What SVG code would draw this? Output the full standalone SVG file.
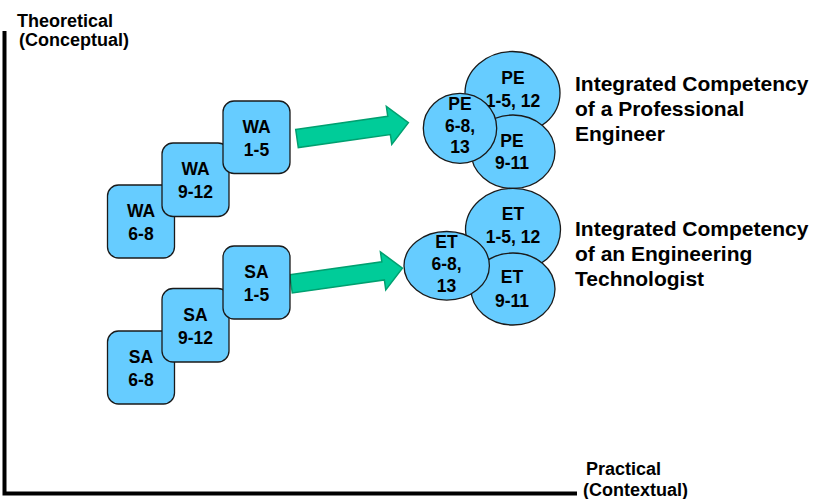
<svg xmlns="http://www.w3.org/2000/svg" width="818" height="499" viewBox="0 0 818 499">
<defs>
<style>
text{font-family:"Liberation Sans",Arial,sans-serif;font-weight:bold;fill:#000}
.box{fill:#66ccff;stroke:#1a1a1a;stroke-width:1.3}
.ell{fill:#66ccff;stroke:#1a1a1a;stroke-width:1.3}
.lbl{font-size:17.5px;text-anchor:middle}
.ax{font-size:18px}
.big{font-size:21px}
.arrow{fill:#00cc99;stroke:#00a070;stroke-width:1.5;stroke-linejoin:miter}
.axis{stroke:#000;stroke-width:4;fill:none}
</style>
<polygon id="arr" points="0,-9.2 93,-9.2 93,-19.2 112.5,0 93,19.2 93,9.2 0,9.2"/>
</defs>
<rect width="818" height="499" fill="#fff"/>
<g id="axes">
<path class="axis" d="M4.5,31 V493.5 H577"/>
<text class="ax" x="17" y="27">Theoretical</text>
<text class="ax" x="19" y="46"> (Conceptual)</text>
<text class="ax" x="586" y="475">Practical</text>
<text class="ax" x="583" y="496">(Contextual)</text>
</g>
<g id="connectors">
<use href="#arr" class="arrow" transform="translate(297,138.5) rotate(-8.1)"/>
<use href="#arr" class="arrow" transform="translate(291,283.8) rotate(-8.0)"/>
</g>
<g id="wa68"><rect class="box" x="107.5" y="185" width="67" height="73" rx="11"/><text class="lbl" x="141" y="217">WA</text><text class="lbl" x="141" y="240">6-8</text></g>
<g id="wa912"><rect class="box" x="162" y="143" width="67" height="73.5" rx="11"/><text class="lbl" x="195.5" y="175">WA</text><text class="lbl" x="195.5" y="198">9-12</text></g>
<g id="wa15"><rect class="box" x="223" y="101" width="67" height="72.5" rx="11"/><text class="lbl" x="256.5" y="133">WA</text><text class="lbl" x="256.5" y="156">1-5</text></g>
<g id="sa68"><rect class="box" x="107.5" y="331" width="67" height="73" rx="11"/><text class="lbl" x="141" y="363">SA</text><text class="lbl" x="141" y="386">6-8</text></g>
<g id="sa912"><rect class="box" x="162" y="288.5" width="67" height="73.5" rx="11"/><text class="lbl" x="195.5" y="320.5">SA</text><text class="lbl" x="195.5" y="343.5">9-12</text></g>
<g id="sa15"><rect class="box" x="223" y="246" width="67" height="73" rx="11"/><text class="lbl" x="256.5" y="278">SA</text><text class="lbl" x="256.5" y="301">1-5</text></g>
<g id="pe1512"><ellipse class="ell" cx="512.5" cy="93" rx="47.5" ry="41.5"/><text class="lbl" x="513" y="83.5">PE</text><text class="lbl" x="513" y="106.5">1-5, 12</text></g>
<g id="pe911"><ellipse class="ell" cx="513" cy="151.7" rx="42" ry="36.7"/><text class="lbl" x="512" y="146.5">PE</text><text class="lbl" x="512" y="168.5">9-11</text></g>
<g id="pe6813"><ellipse class="ell" cx="460" cy="128.3" rx="36.7" ry="35"/><text class="lbl" x="460" y="110">PE</text><text class="lbl" x="460" y="131.5">6-8,</text><text class="lbl" x="460" y="153.3">13</text></g>
<g id="et1512"><ellipse class="ell" cx="513" cy="229.8" rx="47.5" ry="41.5"/><text class="lbl" x="513" y="220">ET</text><text class="lbl" x="513" y="242.7">1-5, 12</text></g>
<g id="et911"><ellipse class="ell" cx="513" cy="289" rx="42" ry="36"/><text class="lbl" x="512" y="283.3">ET</text><text class="lbl" x="512" y="306.5">9-11</text></g>
<g id="et6813"><ellipse class="ell" cx="446.7" cy="265.8" rx="42.7" ry="34.3"/><text class="lbl" x="446.5" y="248.3">ET</text><text class="lbl" x="446.5" y="270">6-8,</text><text class="lbl" x="446.5" y="291.7">13</text></g>
<g id="pe-label"><text class="big" x="575" y="90.5">Integrated Competency</text><text class="big" x="575" y="115.5">of a Professional</text><text class="big" x="575" y="140.5">Engineer</text></g>
<g id="et-label"><text class="big" x="575" y="236">Integrated Competency</text><text class="big" x="575" y="261">of an Engineering</text><text class="big" x="575" y="286">Technologist</text></g>
</svg>
